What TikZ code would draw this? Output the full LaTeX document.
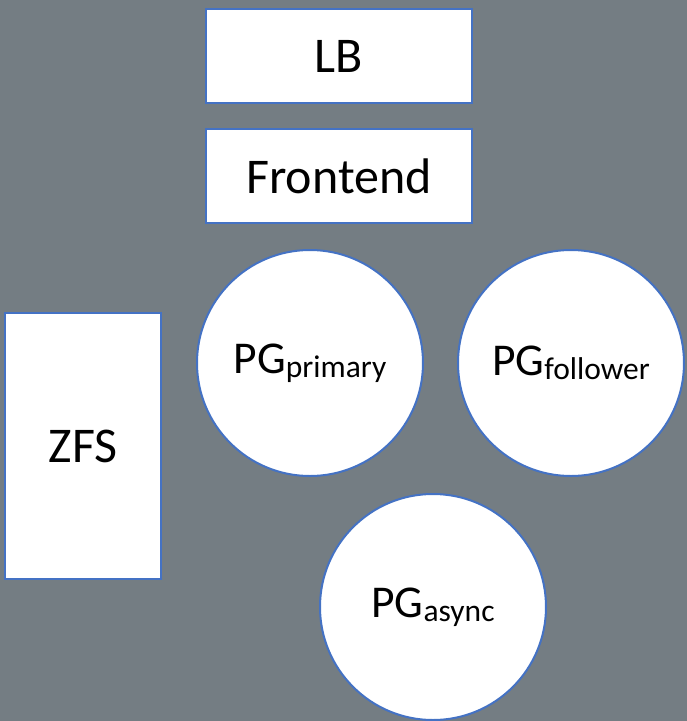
\documentclass[tikz,border=0pt]{standalone}
\usepackage{fontspec}
\setmainfont{Carlito}
\usetikzlibrary{positioning}

\definecolor{slate}{RGB}{116,125,131}
\definecolor{edgeblue}{RGB}{68,114,196}

% PG with a lowered, smaller role name
\newcommand{\pgrole}[1]{PG\raisebox{-4pt}{\fontsize{31.5}{31.5}\selectfont #1}}

\begin{document}
\begin{tikzpicture}[x=1pt, y=-1pt,
  box/.style={rectangle, draw=edgeblue, fill=white, line width=2pt,
    inner sep=0pt, font=\fontsize{50}{50}\selectfont},
  disk/.style={circle, draw=edgeblue, fill=white, line width=2pt,
    inner sep=0pt, minimum size=226pt, font=\fontsize{45.5}{45.5}\selectfont}]
  \fill[slate] (0,0) rectangle (687,721);
  \useasboundingbox (0,0) rectangle (687,721);

  % entry path
  \node[box, minimum width=266pt, minimum height=94pt] (lb) at (339,56) {LB};
  \node[box, minimum width=266pt, minimum height=94pt, below=24pt of lb] (frontend) {Frontend};

  % storage
  \node[box, minimum width=156pt, minimum height=266pt] (zfs) at (83,446) {ZFS};

  % database instances
  \node[disk] (primary) at (310,363) {\pgrole{primary}};
  \node[disk] (follower) at (571,363) {\pgrole{follower}};
  \node[disk] (async) at (433,607) {\pgrole{async}};
\end{tikzpicture}
\end{document}
